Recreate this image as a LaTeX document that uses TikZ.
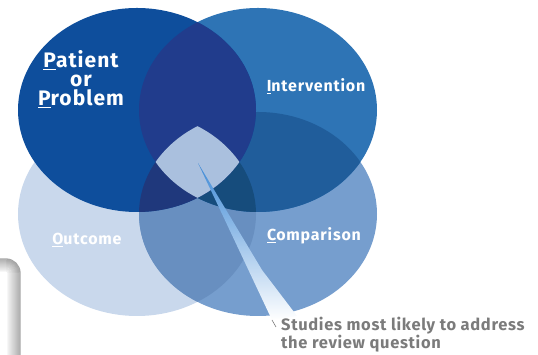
\documentclass[tikz,border=0pt]{standalone}
\usepackage{fontspec}
\setmainfont{Fira Sans}
\newfontfamily\lblfont[LetterSpace=5]{Fira Sans}
\newfontfamily\notefont[LetterSpace=4]{Fira Sans}
\definecolor{cP}{HTML}{0E4E9C}
\definecolor{cI}{HTML}{2E74B5}
\definecolor{cO}{HTML}{C9D8EC}
\definecolor{cC}{HTML}{769ECE}
\definecolor{cPI}{HTML}{213C8C}
\definecolor{cIC}{HTML}{205D9B}
\definecolor{cOC}{HTML}{688FC0}
\definecolor{cPC}{HTML}{1F387C}
\definecolor{cICO}{HTML}{164C7C}
\definecolor{cAll}{HTML}{AAC0DE}
\definecolor{wedgeblue}{HTML}{3F8AD6}
\definecolor{notegrey}{HTML}{7B7B7B}
\begin{document}
\begin{tikzpicture}[x=1pt,y=1pt,
  lobe/.style={x radius=119pt,y radius=102pt},
  lbl/.style={text=white,align=center,inner sep=0pt}]
\useasboundingbox (0,0) rectangle (538,355);

\coordinate (cp) at (137,245);
\coordinate (ci) at (258,245);
\coordinate (co) at (137,141);
\coordinate (cc) at (258,141);

% shadow of the box corner, bottom left
\foreach \r in {2,...,14}{
  \pgfmathsetmacro\g{5*\r}
  \draw[gray!\g,line width=1.3pt] (-1,82+\r) -- (6,82+\r) arc[start angle=90,end angle=0,radius=\r] -- (6+\r,-1);
}

% the four lobes
\fill[cO] (co) ellipse[lobe];
\fill[cC] (cc) ellipse[lobe];
\begin{scope}
  \clip (co) ellipse[lobe];
  \fill[cOC] (cc) ellipse[lobe];
\end{scope}
\fill[cI] (ci) ellipse[lobe];
\begin{scope}
  \clip (cc) ellipse[lobe];
  \fill[cIC] (ci) ellipse[lobe];
\end{scope}
\begin{scope}
  \clip (cc) ellipse[lobe];
  \clip (co) ellipse[lobe];
  \fill[cICO] (ci) ellipse[lobe];
\end{scope}
\fill[cP] (cp) ellipse[lobe];
\begin{scope}
  \clip (ci) ellipse[lobe];
  \fill[cPI] (cp) ellipse[lobe];
\end{scope}
\begin{scope}
  \clip (cc) ellipse[lobe];
  \clip (co) ellipse[lobe];
  \fill[cPC] (cp) ellipse[lobe];
\end{scope}
\begin{scope}
  \clip (ci) ellipse[lobe];
  \clip (cc) ellipse[lobe];
  \clip (co) ellipse[lobe];
  \fill[cAll] (cp) ellipse[lobe];
\end{scope}

% labels
\node[lbl,font=\lblfont\fontsize{21}{19}\bfseries\selectfont] (P) at (81,276) {\underline{P}atient\\or\\\underline{P}roblem};
\node[lbl,font=\lblfont\fontsize{16}{16}\bfseries\selectfont] (I) at (316,269) {\underline{I}ntervention};
\node[lbl,font=\lblfont\fontsize{16}{16}\bfseries\selectfont] (O) at (87,115) {\underline{O}utcome};
\node[lbl,font=\lblfont\fontsize{16}{16}\bfseries\selectfont] (C) at (314,119) {\underline{C}omparison};

% pointer to the note
\node[anchor=north west,align=left,inner sep=0pt,text=notegrey,font=\notefont\fontsize{16.5}{16}\bfseries\selectfont] (note) at (281,38) {Studies most likely to address\\the review question};
\coordinate (core) at (198,192);
\coordinate (foot) at (272,35);
\coordinate (tail) at (276,28);
\shade[top color=wedgeblue,middle color=white,bottom color=white] (core) -- (foot) -- (297,39) -- (262,85) -- cycle;
\draw[notegrey,line width=0.6pt] (foot) -- (tail);

\end{tikzpicture}
\end{document}
